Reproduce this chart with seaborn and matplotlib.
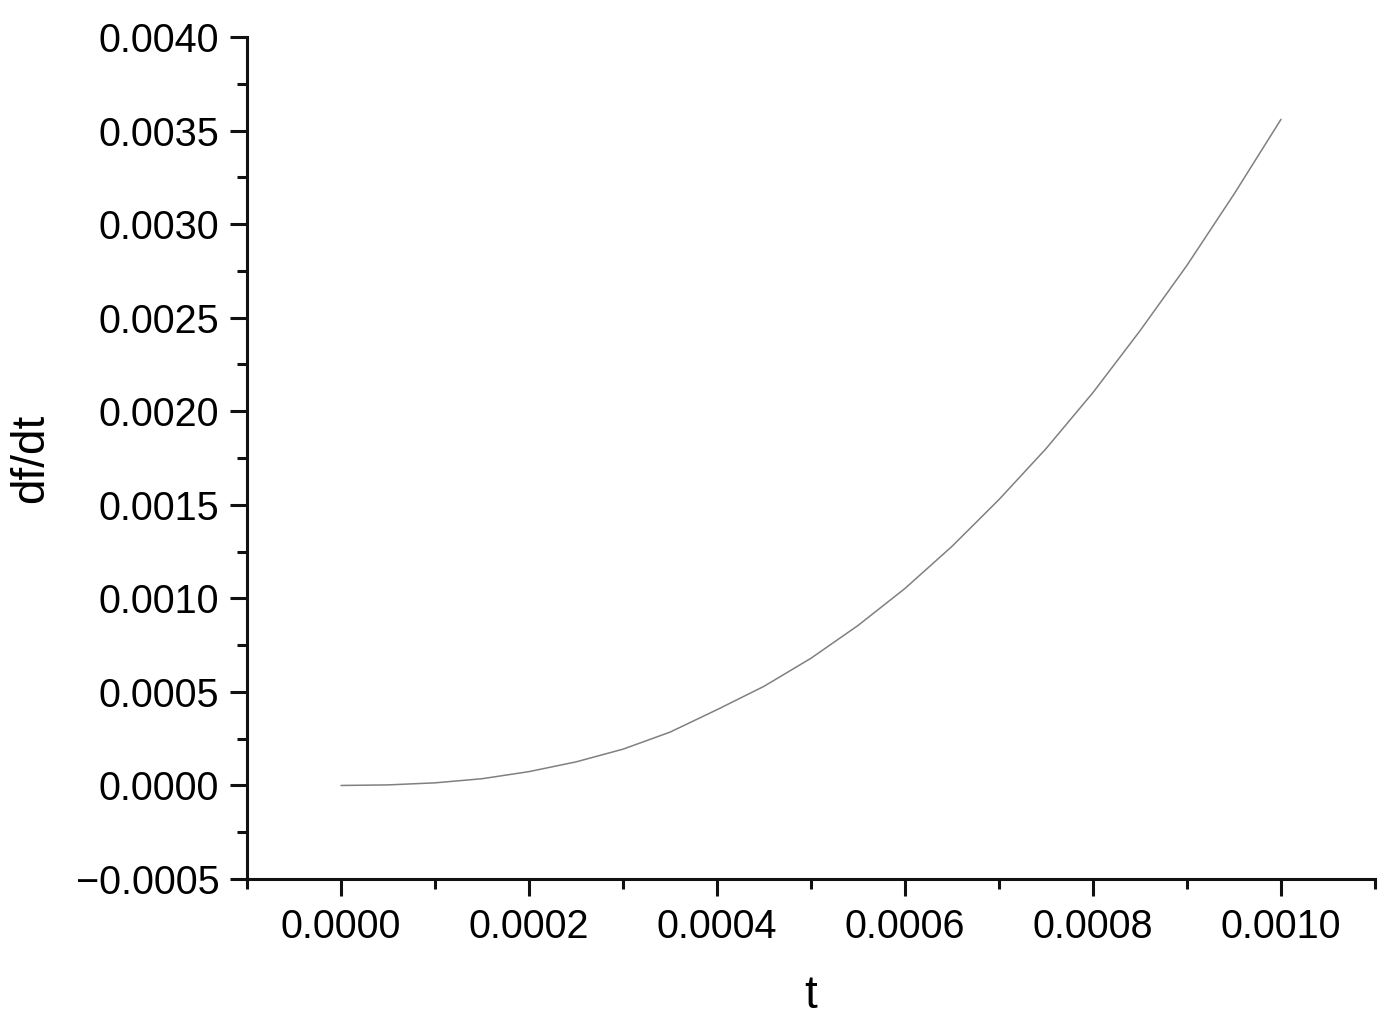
import numpy as np
import pandas as pd
import matplotlib
matplotlib.use("Agg")
import matplotlib.pyplot as plt
from matplotlib.ticker import MultipleLocator
import seaborn as sns

# values
t_vals = [0.0, 0.00005, 0.0001, 0.00015, 0.0002, 0.00025, 0.0003, 0.00035,
          0.0004, 0.00045, 0.0005, 0.00055, 0.0006, 0.00065, 0.0007,
          0.00075, 0.0008, 0.00085, 0.0009, 0.00095, 0.001]
dfdt_vals = [0.0, 0.000003, 0.000014, 0.000036, 0.000074, 0.000126, 0.000194,
             0.000285, 0.000405, 0.00053, 0.00068, 0.000855, 0.001053,
             0.001278, 0.001528, 0.0018, 0.0021, 0.00243, 0.00278, 0.00316,
             0.00356]

x_ticks = [0.0, 0.0002, 0.0004, 0.0006, 0.0008, 0.0010]
y_ticks = [-0.0005, 0.0, 0.0005, 0.0010, 0.0015, 0.0020, 0.0025, 0.0030,
           0.0035, 0.0040]

df = pd.DataFrame({"t": t_vals, "df/dt": dfdt_vals})

sns.set_theme(style="ticks")
plt.rcParams['font.family'] = ['Liberation Sans', 'DejaVu Sans']
plt.rcParams['text.color'] = 'black'
plt.rcParams['axes.labelcolor'] = 'black'
plt.rcParams['xtick.color'] = 'black'
plt.rcParams['ytick.color'] = 'black'

fig = plt.figure(figsize=(13.91, 10.22), dpi=100)
ax = fig.add_axes([0.1776, 0.1399, 0.9885 - 0.1776, 0.9638 - 0.1399])

sns.lineplot(data=df, x="t", y="df/dt", ax=ax, color="#808080", linewidth=1.1)

ax.set_xlim(-0.0001, 0.0011)
ax.set_ylim(-0.0005, 0.0040)
ax.set_xticks(x_ticks)
ax.set_xticklabels([f"{v:.4f}" for v in x_ticks])
ax.set_yticks(y_ticks)
ax.set_yticklabels([f"{v:.4f}".replace("-", "\u2212") for v in y_ticks])
ax.xaxis.set_minor_locator(MultipleLocator(0.0001))
ax.yaxis.set_minor_locator(MultipleLocator(0.00025))

sns.despine(ax=ax)
for s in ['left', 'bottom']:
    ax.spines[s].set_linewidth(2.2)
    ax.spines[s].set_color('#111111')

ax.tick_params(which='major', direction='out', length=12, width=2.2,
               labelsize=28.5, pad=8, color='#111111', labelcolor='black')
ax.tick_params(which='minor', direction='out', length=7.5, width=2.2,
               color='#111111')
ax.tick_params(axis='x', which='major', pad=9)

ax.set_xlabel('t', fontsize=33, labelpad=20, color='black')
ax.set_ylabel('df/dt', fontsize=33, labelpad=16, color='black')

fig.savefig('out.png', dpi=100, facecolor='white')
plt.close(fig)
